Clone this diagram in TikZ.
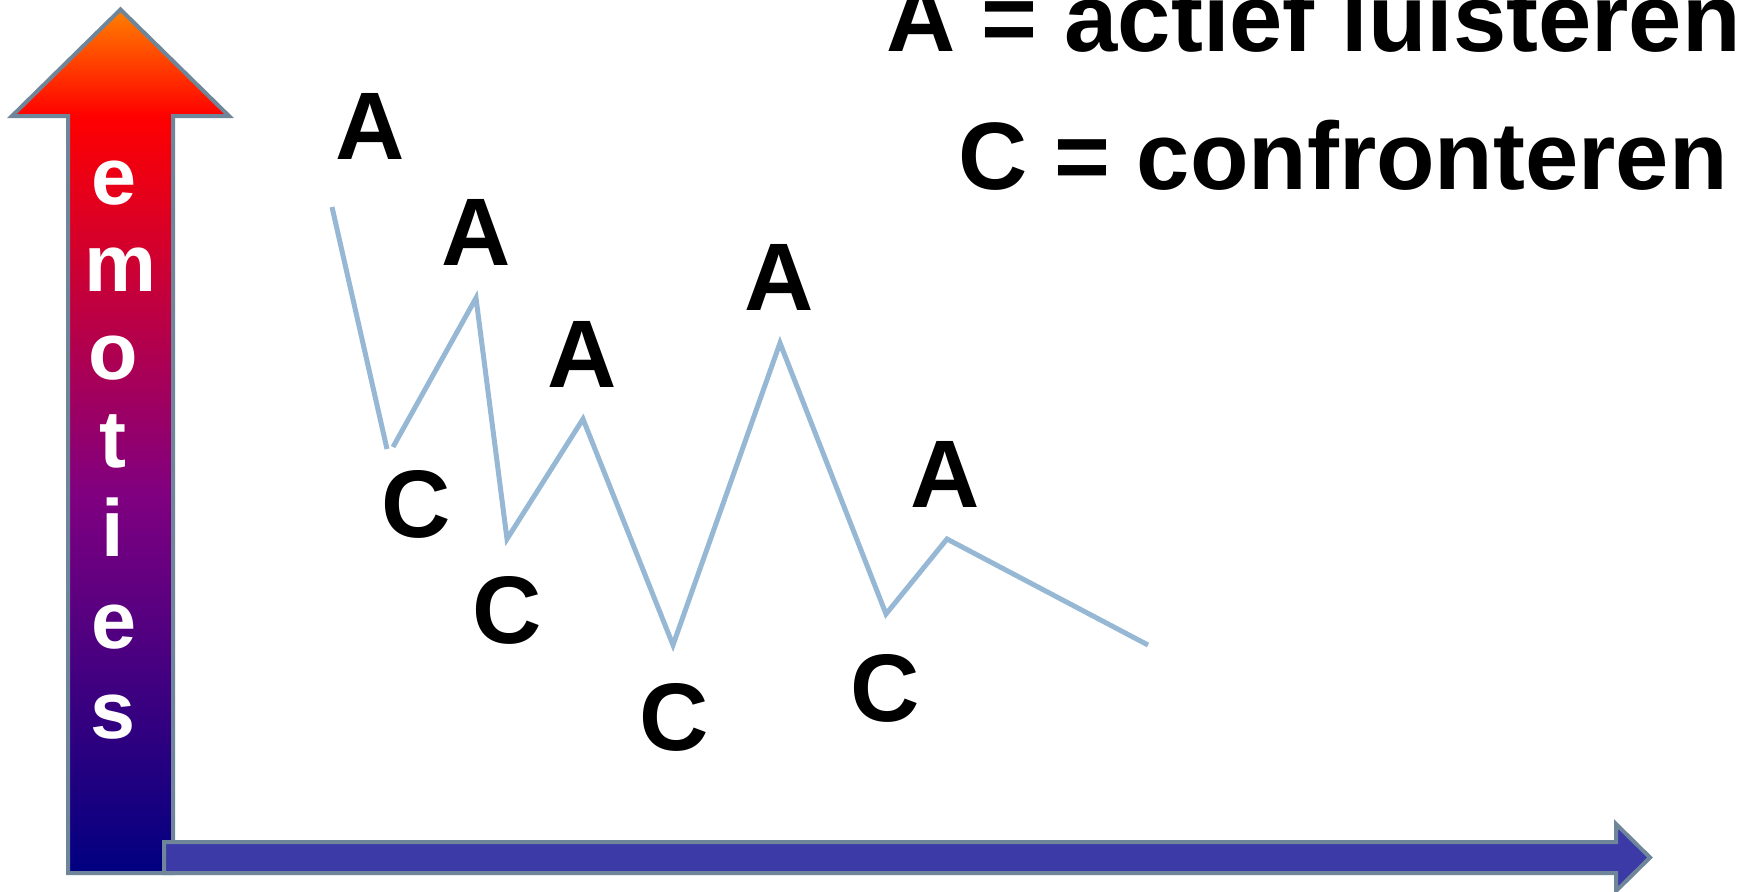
\documentclass[tikz,border=0pt]{standalone}
\usepackage{fontspec}
\setmainfont{Liberation Sans}
\definecolor{edgegray}{RGB}{111,133,153}
\definecolor{axisblue}{RGB}{60,58,166}
\definecolor{linecol}{RGB}{150,184,212}
\definecolor{cnavy}{RGB}{0,0,128}
\definecolor{cpurp}{RGB}{128,0,128}
\definecolor{cred}{RGB}{255,0,0}
\definecolor{corange}{RGB}{255,128,0}
\pgfdeclareverticalshading{emoshade}{100bp}{color(0bp)=(cnavy); color(25bp)=(cnavy); color(46.95bp)=(cpurp); color(68.8bp)=(cred); color(75bp)=(corange); color(100bp)=(corange)}
\tikzset{
  letterA/.style={font=\fontsize{96}{96}\bfseries\selectfont, inner sep=0pt, anchor=base},
  legend/.style={font=\fontsize{95.8}{95.8}\bfseries\selectfont, inner sep=0pt, anchor=base east},
  vert/.style={font=\fontsize{81}{81}\bfseries\selectfont, text=white, inner sep=0pt, anchor=base},
  zigzag/.style={draw=linecol, line width=5pt, line join=miter},
  arrowedge/.style={draw=edgegray, line width=4pt, line join=miter}
}
\begin{document}
\begin{tikzpicture}[x=1pt,y=-1pt]
\useasboundingbox (0,0) rectangle (1744,891);
% vertical arrow
\path[arrowedge, shading=emoshade]
  (120.5,9.5) -- (229,116) -- (173,116) -- (173,873) -- (68,873) -- (68,116) -- (12,116) -- cycle;
% horizontal arrow
\path[arrowedge, fill=axisblue]
  (164,842) -- (1616,842) -- (1616,824) -- (1650,857.5) -- (1616,891) -- (1616,873) -- (164,873) -- cycle;
% vertical text
\node[vert] (e1) at (114,204) {e};
\node[vert] (m1) at (121,291) {m};
\node[vert] (o1) at (113.5,379) {o};
\node[vert] (t1) at (113,467) {t};
\node[vert] (i1) at (112.5,556) {i};
\node[vert] (e2) at (114,648) {e};
\node[vert] (s1) at (113,738) {s};
% legend
\node[legend] (legA) at (1741,52) {A = actief luisteren};
\node[legend] (legC) at (1728,189) {C = confronteren};
% zigzag points
\coordinate (p0) at (332,207);
\coordinate (p1) at (387,449);
\coordinate (p2) at (393,447);
\coordinate (p3) at (476,298);
\coordinate (p4) at (507,539);
\coordinate (p5) at (583,419);
\coordinate (p6) at (673,645);
\coordinate (p7) at (780,343);
\coordinate (p8) at (886,614);
\coordinate (p9) at (947,539);
\coordinate (p10) at (1148,645);
\draw[zigzag] (p0) -- (p1);
\draw[zigzag] (p2) -- (p3) -- (p4) -- (p5) -- (p6) -- (p7) -- (p8) -- (p9) -- (p10);
% letters
\node[letterA] (a1) at (370,159) {A};
\node[letterA] (a2) at (476.5,265) {A};
\node[letterA] (a3) at (582.5,387) {A};
\node[letterA] (a4) at (779,310) {A};
\node[letterA] (a5) at (945,507) {A};
\node[letterA] (c1) at (416.5,537) {C};
\node[letterA] (c2) at (507.5,643) {C};
\node[letterA] (c3) at (674.5,750) {C};
\node[letterA] (c4) at (885.5,721) {C};
\end{tikzpicture}
\end{document}
